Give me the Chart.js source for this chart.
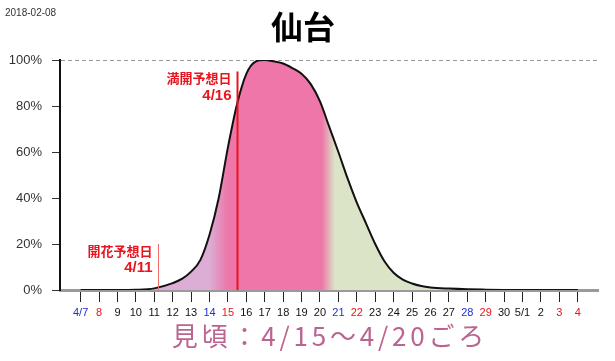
<!DOCTYPE html>
<html><head><meta charset="utf-8">
<script src="https://cdn.jsdelivr.net/npm/chart.js@4"></script>
<style>html,body{margin:0;padding:0;background:#fff;} #wrap{width:615px;height:361px;position:relative}</style>
</head><body><div id="wrap"><canvas id="c" width="615" height="361"></canvas></div>
<script>
// ---- data ----
const titleText = '仙台';
const dateText = '2018-02-08';
const bestText = '見頃：4/15〜4/20ごろ';
const dayLabels = ['4/7','8','9','10','11','12','13','14','15','16','17','18','19','20','21','22','23','24','25','26','27','28','29','30','5/1','2','3','4'];
const labelKinds = ['sat','sun','','','','','','sat','sun','','','','','','sat','sun','','','','','','sat','sun','','','','sun','sun'];
const curveDays   = [0, 1, 2, 3,   4,   5, 5.5, 6, 6.5, 7,  7.5, 8,  8.5, 9,  9.5,  10,  10.5, 11,  11.5, 12, 12.5, 13,   13.5, 14, 14.5, 15, 15.5, 16, 16.5, 17,  17.5, 18,  18.5, 19,  20,  21,  22,   23,   24, 25, 26, 27];
const curveValues = [0, 0, 0, 0.1, 0.7, 3, 4.8, 8, 13,  24, 40,  62, 81,  94, 99.3, 100, 99.4, 98.5, 96.5, 94, 89.5, 82,   71,   60, 48.5, 38, 29,   20, 12.5, 7.5, 4.5,  2.8, 1.7,  1.1, 0.6, 0.3, 0.15, 0.05, 0,  0,  0,  0];
const yTicks = [0, 20, 40, 60, 80, 100];
const forecastDays = [4.2, 8.5];
const forecastTops = [20, 95];
const forecastNames = ['開花予想日', '満開予想日'];
const forecastDates = ['4/11', '4/16'];
const phaseDays = [7.0, 8.0, 13.1, 13.8];

// ---- styles ----
const kindColor = {sat: '#1f2fd0', sun: '#e8141e', '': '#111'};
const purple = '#dcadd5', pink = '#ee76a8', green = '#dbe4c7';
const jp = '"Noto Sans CJK JP", "Noto Sans", sans-serif';
const lat = '"Liberation Sans", Arial, sans-serif';

function spacedText(ctx, text, cx, cy, spacing) {
  const chars = Array.from(text);
  const widths = chars.map(ch => ctx.measureText(ch).width);
  const total = widths.reduce((a, b) => a + b, 0) + spacing * (chars.length - 1);
  let x = cx - total / 2;
  ctx.textAlign = 'left';
  chars.forEach((ch, i) => { ctx.fillText(ch, x, cy); x += widths[i] + spacing; });
}

const deco = {
  id: 'deco',
  afterDatasetsDraw(chart) {
    const {ctx, scales: {x, y}} = chart;
    ctx.save();
    forecastDays.forEach((d, i) => {
      const px = Math.round(x.getPixelForValue(d)) + 0.5;
      const top = y.getPixelForValue(forecastTops[i]);
      ctx.beginPath();
      ctx.strokeStyle = i === 0 ? '#f26b6b' : '#e8141e';
      ctx.lineWidth = i === 0 ? 1 : 2;
      ctx.moveTo(px, top);
      ctx.lineTo(px, y.getPixelForValue(0));
      ctx.stroke();
      ctx.fillStyle = '#e8141e';
      ctx.textAlign = 'right';
      ctx.textBaseline = 'middle';
      ctx.font = 'bold 13px ' + jp;
      ctx.fillText(forecastNames[i], px - 6, top + 7);
      ctx.font = 'bold 15px ' + lat;
      ctx.fillText(forecastDates[i], px - 6, top + 24);
    });
    ctx.restore();
  },
  afterDraw(chart) {
    const {ctx} = chart;
    ctx.save();
    ctx.fillStyle = '#000';
    ctx.textAlign = 'center';
    ctx.textBaseline = 'middle';
    ctx.font = 'bold 32px ' + jp;
    ctx.fillText(titleText, 303, 27);
    ctx.textAlign = 'left';
    ctx.font = '10px "Liberation Sans Narrow", ' + lat;
    ctx.fillStyle = '#333';
    ctx.fillText(dateText, 5, 13);
    ctx.font = '26px ' + jp;
    ctx.fillStyle = '#bb6490';
    spacedText(ctx, bestText, 328, 336, 3.8);
    ctx.restore();
  }
};

new Chart(document.getElementById('c'), {
  type: 'line',
  data: {
    datasets: [{
      data: curveDays.map((d, i) => ({x: d, y: curveValues[i]})),
      borderColor: '#111',
      borderWidth: 2,
      pointRadius: 0,
      cubicInterpolationMode: 'monotone',
      fill: 'origin',
      backgroundColor(c) {
        const chart = c.chart, area = chart.chartArea;
        if (!area) return purple;
        const x = chart.scales.x;
        const f = d => Math.min(1, Math.max(0, (x.getPixelForValue(d) - area.left) / (area.right - area.left)));
        const g = chart.ctx.createLinearGradient(area.left, 0, area.right, 0);
        g.addColorStop(0, purple);
        g.addColorStop(f(phaseDays[0]), purple);
        g.addColorStop(f(phaseDays[1]), pink);
        g.addColorStop(f(phaseDays[2]), pink);
        g.addColorStop(f(phaseDays[3]), green);
        g.addColorStop(1, green);
        return g;
      }
    }]
  },
  options: {
    responsive: false,
    animation: false,
    layout: {padding: {top: 60, right: 17, left: 0, bottom: 0}},
    plugins: {legend: {display: false}, tooltip: {enabled: false}, title: {display: false}},
    scales: {
      x: {
        type: 'linear',
        min: -1.12, max: 28.1,
        afterFit(s) { s.height = 71; },
        afterBuildTicks(s) { s.ticks = dayLabels.map((_, i) => ({value: i})); },
        grid: {drawOnChartArea: false, tickLength: 12, tickColor: '#222', tickWidth: 1},
        border: {color: '#9a9a9a', width: 3},
        ticks: {
          autoSkip: false, maxRotation: 0, padding: 4,
          font: {family: lat, size: 11},
          color: c => kindColor[labelKinds[c.index]] || '#111',
          callback: (v, i) => dayLabels[i]
        }
      },
      y: {
        min: 0, max: 100,
        afterFit(s) { s.width = 60; },
        afterBuildTicks(s) { s.ticks = yTicks.map(v => ({value: v})); },
        grid: {
          tickLength: 8, tickColor: '#333', tickWidth: 1,
          color: c => (c.tick && c.tick.value === 100) ? '#999' : 'rgba(0,0,0,0)'
        },
        border: {color: '#111', width: 2, dash: [4, 3]},
        ticks: {padding: 10, font: {family: lat, size: 13}, color: '#333', callback: v => v + '%'}
      }
    }
  },
  plugins: [deco]
});
</script>
</body></html>
